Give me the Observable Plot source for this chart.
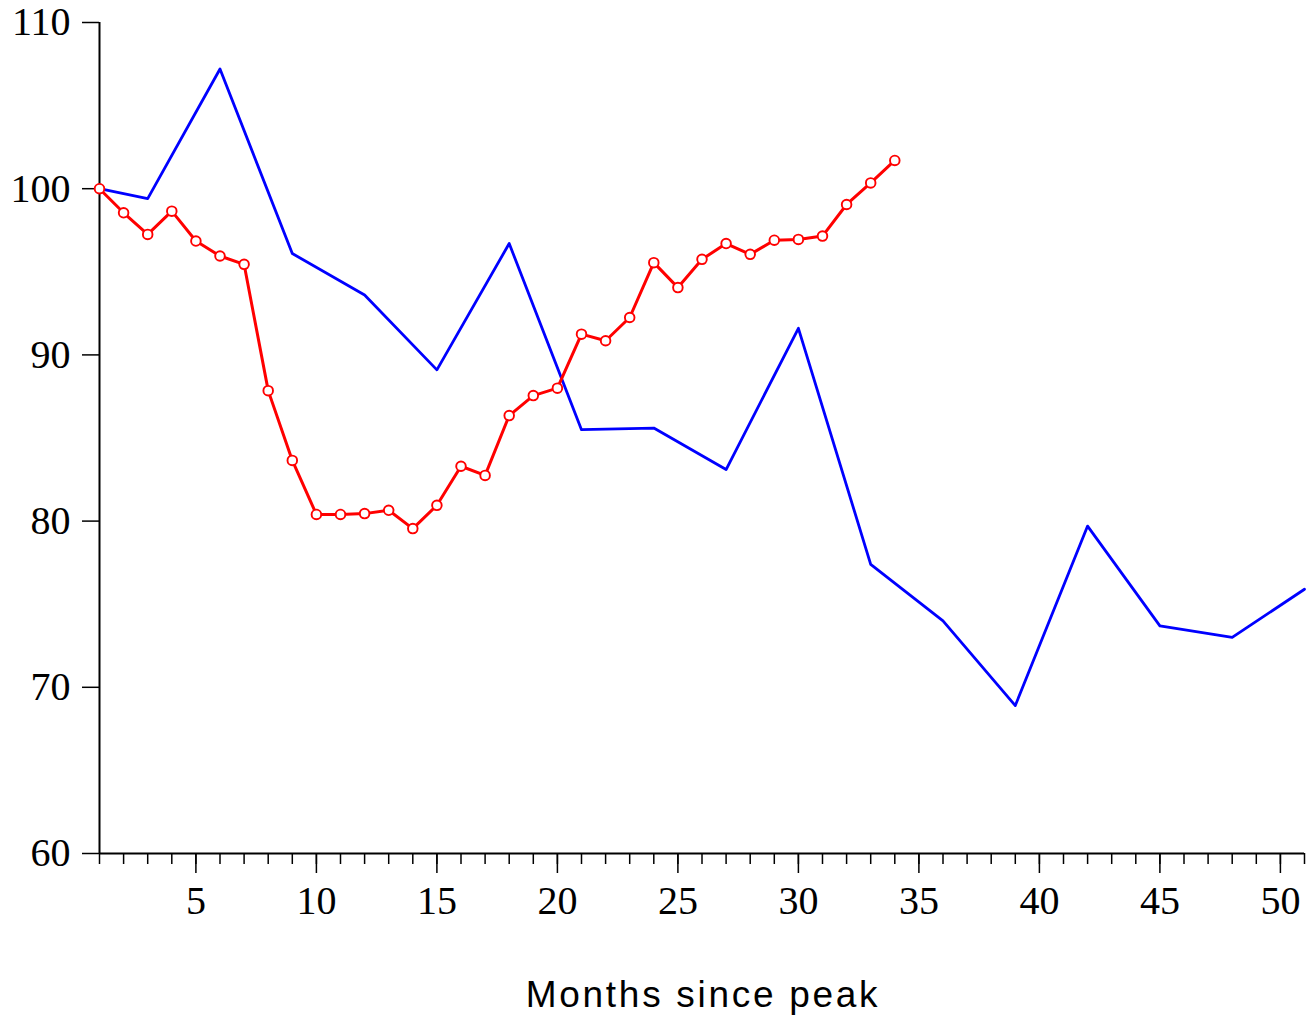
<!DOCTYPE html>
<html>
<head>
<meta charset="utf-8">
<script src="https://cdn.jsdelivr.net/npm/d3@7"></script>
<script src="https://cdn.jsdelivr.net/npm/@observablehq/plot@0.6"></script>
<style>
  html, body { margin: 0; padding: 0; background: #fff; }
  #chart svg { display: block; }
  .xlabel text { letter-spacing: 2.7px; }
</style>
</head>
<body>
<div id="chart"></div>
<script>
// Blue series (every three months)
const blueMonths = [1, 3, 6, 9, 12, 15, 18, 21, 24, 27, 30, 33, 36, 39, 42, 45, 48, 51];
const blueValues = [100, 99.4, 107.2, 96.1, 93.6, 89.1, 96.7, 85.5, 85.6, 83.1, 91.6, 77.4, 74.0, 68.9, 79.7, 73.7, 73.0, 75.9];

// Red series (monthly, with markers)
const redMonths = [1, 2, 3, 4, 5, 6, 7, 8, 9, 10, 11, 12, 13, 14, 15, 16, 17, 18, 19, 20, 21, 22, 23, 24, 25, 26, 27, 28, 29, 30, 31, 32, 33, 34];
const redValues = [100, 98.55, 97.25, 98.65, 96.85, 95.95, 95.45, 87.85, 83.65, 80.4, 80.4, 80.45, 80.65, 79.55, 80.95, 83.3, 82.75, 86.35, 87.55, 88.0, 91.25, 90.85, 92.25, 95.55, 94.05, 95.75, 96.7, 96.05, 96.9, 96.95, 97.15, 99.05, 100.35, 101.7];

// Axes
const yTicks = [60, 70, 80, 90, 100, 110];
const xMajorTicks = [5, 10, 15, 20, 25, 30, 35, 40, 45, 50];
const xMinorTicks = [1, 2, 3, 4, 5, 6, 7, 8, 9, 10, 11, 12, 13, 14, 15, 16, 17, 18, 19, 20, 21, 22, 23, 24, 25, 26, 27, 28, 29, 30, 31, 32, 33, 34, 35, 36, 37, 38, 39, 40, 41, 42, 43, 44, 45, 46, 47, 48, 49, 50, 51];
const xLabel = "Months since peak";

const blue = blueMonths.map((m, i) => ({month: m, value: blueValues[i]}));
const red = redMonths.map((m, i) => ({month: m, value: redValues[i]}));

const chart = Plot.plot({
  width: 1306,
  height: 1017,
  marginLeft: 99,
  marginRight: 2,
  marginTop: 22,
  marginBottom: 164,
  style: {fontFamily: "Liberation Serif", background: "#fff", color: "#000"},
  x: {domain: [1, 51]},
  y: {domain: [60, 110]},
  marks: [
    // axis lines
    Plot.ruleX([1], {y1: 60, y2: 110, stroke: "#000", strokeWidth: 2}),
    Plot.ruleY([60], {x1: 1, x2: 51, stroke: "#000", strokeWidth: 2}),
    // y axis
    Plot.axisY({ticks: yTicks, tickSize: 17, tickPadding: 12, tickFormat: d => String(d),
      fontSize: 40, fontFamily: "Liberation Serif", strokeWidth: 1.5, label: null}),
    // x minor ticks
    Plot.axisX({ticks: xMinorTicks, tickSize: 11, tickFormat: () => "", strokeWidth: 1.5, label: null}),
    // x major ticks
    Plot.axisX({ticks: xMajorTicks, tickSize: 20, tickPadding: 12, tickFormat: d => String(d),
      fontSize: 40, fontFamily: "Liberation Serif", strokeWidth: 1.5, label: null}),
    // x label
    Plot.text([xLabel], {frameAnchor: "bottom", dy: 142, dx: 1, text: d => d, fontSize: 37,
      fontFamily: "Liberation Sans", lineAnchor: "middle", textAnchor: "middle", fill: "#000",
      className: "xlabel"}),
    // series
    Plot.line(blue, {x: "month", y: "value", stroke: "#0000ff", strokeWidth: 2.8}),
    Plot.line(red, {x: "month", y: "value", stroke: "#ff0000", strokeWidth: 3}),
    Plot.dot(red, {x: "month", y: "value", r: 4.8, stroke: "#ff0000", strokeWidth: 1.9, fill: "#fff"})
  ]
});
document.getElementById("chart").appendChild(chart);
</script>
</body>
</html>
